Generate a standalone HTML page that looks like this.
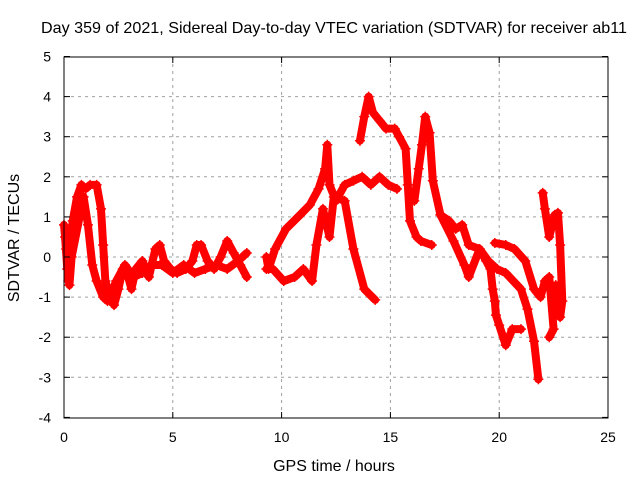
<!DOCTYPE html>
<html><head><meta charset="utf-8"><style>
body{margin:0;background:#fff}
svg{display:block;font-family:"Liberation Sans",sans-serif}
</style></head><body>
<svg id="chart" width="640" height="480" viewBox="0 0 640 480">
<rect width="640" height="480" fill="#fff"/>
<text x="334" y="33" text-anchor="middle" font-size="16" textLength="586" lengthAdjust="spacingAndGlyphs">Day 359 of 2021, Sidereal Day-to-day VTEC variation (SDTVAR) for receiver ab11</text>
<g id="grid"></g>
<g id="series"></g>
<rect x="64" y="57" width="544" height="361" fill="none" stroke="#000" stroke-width="1"/>
<g id="axes"></g>
<text x="334" y="471" text-anchor="middle" font-size="16">GPS time / hours</text>
<text transform="translate(19,238) rotate(-90)" text-anchor="middle" font-size="16">SDTVAR / TECUs</text>
</svg>
<script>
const xTicks=[0,5,10,15,20,25];
const yTicks=[-4,-3,-2,-1,0,1,2,3,4,5];
const segA=[[0,0.8],[0.1,0.2],[0.2,-0.6],[0.3,0.3],[0.4,0.9],[0.6,1.5],[0.8,1.8],[1.0,1.7],[1.2,1.8],[1.5,1.8],[1.7,1.2],[1.8,0.3],[1.9,-0.6],[2.1,-1.0],[2.3,-1.2],[2.5,-0.8],[2.7,-0.3],[2.9,-0.4],[3.1,-0.8],[3.3,-0.3],[3.6,-0.1],[3.9,-0.5],[4.2,0.2],[4.4,0.3],[4.6,-0.1],[4.9,-0.3],[5.2,-0.4],[5.6,-0.3],[5.9,-0.1],[6.1,0.3],[6.3,0.3],[6.6,-0.1],[6.9,-0.3],[7.2,0.0],[7.5,0.4],[7.8,0.1],[8.1,-0.2],[8.4,-0.5]];
const segA2=[[0.05,0.5],[0.15,-0.3],[0.25,-0.7],[0.35,0.0],[0.9,1.5],[1.1,0.8],[1.3,-0.2],[1.5,-0.6],[1.8,-1.0],[2.0,-1.1],[2.4,-0.6],[2.8,-0.2],[3.2,-0.5],[3.6,-0.4],[4.0,-0.2],[4.5,-0.2],[5.0,-0.4],[5.5,-0.2],[6.0,-0.4],[6.5,-0.3],[7.0,-0.2],[7.5,-0.3],[8.0,-0.1],[8.4,0.1]];
const segB=[[9.3,0.0],[9.4,-0.3],[9.7,0.2],[10.2,0.7],[10.85,1.05],[11.3,1.3],[11.7,1.7],[12.0,2.2],[12.1,2.8],[12.2,1.8],[12.5,1.4],[12.9,1.8],[13.3,1.9],[13.7,2.0],[14.1,1.8],[14.5,2.0],[14.9,1.8],[15.3,1.7]];
const segB2=[[9.3,-0.3],[9.6,-0.3],[10.1,-0.6],[10.6,-0.5],[11.0,-0.3],[11.4,-0.6],[11.6,0.3],[11.9,1.2],[12.2,0.5],[12.4,1.5],[12.9,1.4],[13.3,0.2],[13.8,-0.8],[14.3,-1.07]];
const segC=[[13.6,2.9],[13.8,3.5],[14.0,4.0],[14.2,3.6],[14.5,3.4],[14.8,3.2],[15.2,3.2],[15.4,3.0],[15.7,2.7],[15.8,1.8],[15.9,0.9],[16.2,0.5],[16.4,0.4],[16.9,0.3]];
const segD=[[16.1,1.4],[16.3,2.2],[16.45,2.8],[16.6,3.5],[16.8,3.1],[16.95,1.9],[17.3,1.05],[17.7,0.9],[18.0,0.7],[18.3,0.8],[18.6,0.3],[19.1,0.2],[19.5,-0.1],[19.9,-0.3],[20.3,-0.4],[21.0,-0.8],[21.3,-1.3],[21.6,-2.1],[21.8,-3.05]];
const segE=[[17.3,1.05],[17.9,0.4],[18.4,-0.2],[18.6,-0.5],[19.1,0.2],[19.4,-0.1],[19.6,-0.3],[19.7,-0.8],[19.8,-1.1],[19.85,-1.45],[20.0,-1.7],[20.3,-2.2],[20.6,-1.8],[21.0,-1.8]];
const segF=[[19.8,0.35],[20.3,0.3],[20.7,0.2],[21.2,-0.1],[21.6,-0.8],[21.9,-1.0],[22.1,-0.6],[22.3,-0.5],[22.5,-1.8],[22.3,-2.0]];
const segG=[[22.0,1.6],[22.1,1.2],[22.3,0.5],[22.55,1.05],[22.7,1.1],[22.8,0.3],[22.9,-1.1],[22.8,-1.5],[22.6,-0.7]];
const series=[segA,segA2,segB,segB2,segC,segD,segE,segF,segG];
const X=h=>64+h*544/25, Y=v=>257-v*40.1;
const NS='http://www.w3.org/2000/svg';
const g=document.getElementById('grid'),ax=document.getElementById('axes'),s=document.getElementById('series');
function mk(t,a,p){const e=document.createElementNS(NS,t);for(const k in a)e.setAttribute(k,a[k]);p.appendChild(e);return e;}
xTicks.forEach(t=>{const x=X(t);
 if(t>0&&t<25){const l=mk('line',{x1:x,x2:x,y1:57,y2:418,stroke:'#a0a0a0','stroke-dasharray':'3,4'},g);
 
 }
 mk('line',{x1:x,x2:x,y1:418,y2:412,stroke:'#000'},ax);mk('line',{x1:x,x2:x,y1:57,y2:63,stroke:'#000'},ax);
 const tx=mk('text',{x:x,y:442,'text-anchor':'middle','font-size':'14'},ax);tx.textContent=t;
 
 });
yTicks.forEach(t=>{const y=Y(t);
 if(t>-4&&t<5){const l=mk('line',{x1:64,x2:608,y1:y,y2:y,stroke:'#a0a0a0','stroke-dasharray':'3,4'},g);
 
 }
 mk('line',{x1:64,x2:70,y1:y,y2:y,stroke:'#000'},ax);mk('line',{x1:608,x2:602,y1:y,y2:y,stroke:'#000'},ax);
 const tx=mk('text',{x:51,y:y+5,'text-anchor':'end','font-size':'14'},ax);tx.textContent=t;
 
 });
series.forEach(seg=>{
 const pl=mk('polyline',{points:seg.map(p=>X(p[0])+','+Y(p[1])).join(' '),fill:'none',stroke:'#f00','stroke-width':8,'stroke-linejoin':'round','stroke-linecap':'round'},s);
 
 
 seg.forEach(p=>{const x=X(p[0]),y=Y(p[1]);
  const m=mk('path',{d:`M${x-5},${y}h10M${x},${y-5}v10`,stroke:'#f00','stroke-width':1.5},s);
  
  });
});
</script>
</body></html>
